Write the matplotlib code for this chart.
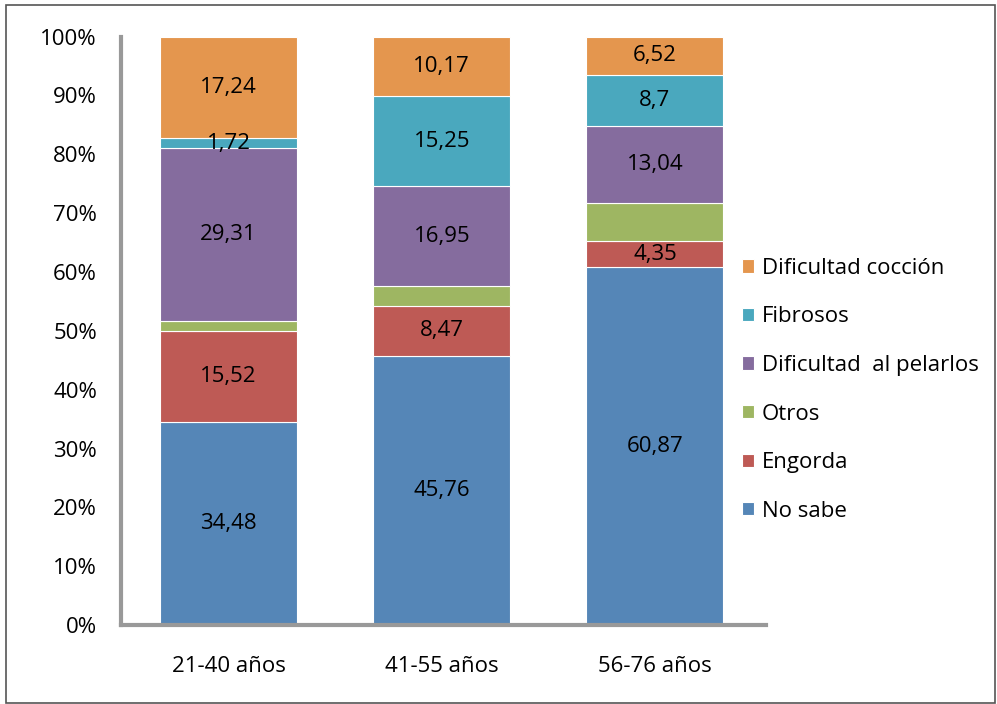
import numpy as np
import matplotlib.pyplot as plt
from matplotlib.patches import Rectangle

plt.rcParams['font.family'] = ['Open Sans', 'DejaVu Sans']

groups = ["21-40 años", "41-55 años", "56-76 años"]
series = ["No sabe", "Engorda", "Otros", "Dificultad  al pelarlos",
          "Fibrosos", "Dificultad cocción"]
no_sabe = [34.48, 45.76, 60.87]
engorda = [15.52, 8.47, 4.35]
otros = [1.73, 3.40, 6.52]
pelarlos = [29.31, 16.95, 13.04]
fibrosos = [1.72, 15.25, 8.7]
coccion = [17.24, 10.17, 6.52]
show_labels = [True, True, False, True, True, True]

colors = ["#5586B7", "#BE5A55", "#9EB662", "#856C9E", "#4AA8BE", "#E4964E"]


def fmt(v):
    return ("%g" % v).replace(".", ",")


fig = plt.figure(figsize=(9.97, 7.04), dpi=100)
fig.patches.append(Rectangle((0.006, 0.002), 0.992, 0.991, transform=fig.transFigure,
                             fill=False, edgecolor="#555555", linewidth=1.2))
ax = fig.add_axes([0.121, 0.112, 0.647, 0.836])

x = np.arange(len(groups))
data = [no_sabe, engorda, otros, pelarlos, fibrosos, coccion]
bottom = np.zeros(len(groups))
handles = []
for vals, name, col, lab in zip(data, series, colors, show_labels):
    vals = np.array(vals)
    b = ax.bar(x, vals, 0.643, bottom=bottom, color=col, edgecolor="white",
               linewidth=0.8, label=name)
    handles.append(b)
    if lab:
        for xi, v, b0 in zip(x, vals, bottom):
            ax.text(xi, b0 + v / 2, fmt(v), ha="center", va="center",
                    fontsize=16, color="black")
    bottom += vals

ax.set_xlim(-0.507, 2.52)
ax.set_ylim(0, 100)
ax.set_yticks(np.arange(0, 101, 10))
ax.set_yticklabels(["%d%%" % v for v in range(0, 101, 10)])
ax.set_xticks(x)
ax.set_xticklabels(groups)
ax.tick_params(axis="both", length=0, labelsize=16)
ax.tick_params(axis="y", pad=17)
ax.tick_params(axis="x", pad=22)
for s in ["top", "right"]:
    ax.spines[s].set_visible(False)
for s in ["left", "bottom"]:
    ax.spines[s].set_color("#999999")
    ax.spines[s].set_linewidth(3)

leg = ax.legend(handles[::-1], series[::-1], loc="center left",
                bbox_to_anchor=(0.932, 0.40), frameon=False, fontsize=16,
                handlelength=0.54, handleheight=0.54, handletextpad=0.36,
                labelspacing=1.24)

fig.savefig("out.png", dpi=100)
